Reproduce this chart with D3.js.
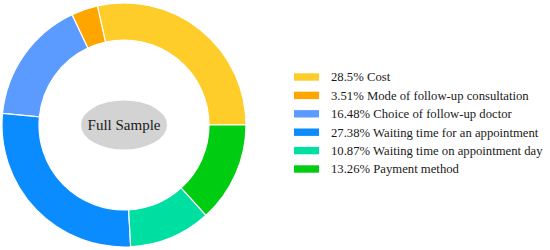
<!DOCTYPE html>
<html>
<head>
<meta charset="utf-8">
<script src="https://cdn.jsdelivr.net/npm/d3@7"></script>
<style>
  body { margin: 0; background: #fff; }
  svg { display: block; }
  svg text { font-family: "Liberation Serif", "DejaVu Serif", serif; }
</style>
</head>
<body>
<div id="chart"></div>
<script>
// slice data, in drawing order (counter-clockwise from 3 o'clock)
var labels = ["Cost", "Mode of follow-up consultation", "Choice of follow-up doctor",
              "Waiting time for an appointment", "Waiting time on appointment day", "Payment method"];
var values = [28.5, 3.51, 16.48, 27.38, 10.87, 13.26];
var colors = ["#ffcd29", "#ffa500", "#5b9bff", "#0a8cff", "#00dfa2", "#00cc11"];
var centerLabel = "Full Sample";

var width = 550, height = 250;
var cx = 124, cy = 125;
var outerR = 122, innerR = 85;

var svg = d3.select("#chart")
    .append("svg")
    .attr("width", width)
    .attr("height", height);

var data = labels.map(function (d, i) {
    return { label: d, value: values[i], color: colors[i] };
});

// start at east, go counter-clockwise
var pie = d3.pie()
    .sort(null)
    .value(function (d) { return d.value; })
    .startAngle(Math.PI / 2)
    .endAngle(Math.PI / 2 - 2 * Math.PI);

var arc = d3.arc()
    .innerRadius(innerR)
    .outerRadius(outerR);

var donut = svg.append("g")
    .attr("transform", "translate(" + cx + "," + cy + ")");

donut.selectAll("path")
    .data(pie(data))
    .join("path")
    .attr("d", arc)
    .attr("fill", function (d) { return d.data.color; })
    .attr("stroke", "#fff")
    .attr("stroke-width", 1.2);

// center label
donut.append("ellipse")
    .attr("rx", 43)
    .attr("ry", 24.5)
    .attr("fill", "#d3d3d3");

donut.append("text")
    .attr("text-anchor", "middle")
    .attr("dy", "0.35em")
    .attr("font-size", 15)
    .attr("fill", "#1a1a1a")
    .text(centerLabel);

// legend
var legendX = 294, legendY = 77, rowH = 18.4;

var legend = svg.append("g")
    .attr("transform", "translate(" + legendX + "," + legendY + ")");

var rows = legend.selectAll("g")
    .data(data)
    .join("g")
    .attr("transform", function (d, i) { return "translate(0," + (i * rowH) + ")"; });

rows.append("rect")
    .attr("x", 0)
    .attr("y", -3.7)
    .attr("width", 25)
    .attr("height", 7.4)
    .attr("fill", function (d) { return d.color; });

rows.append("text")
    .attr("x", 37)
    .attr("dy", "0.35em")
    .attr("font-size", 12.7)
    .attr("fill", "#1a1a1a")
    .text(function (d) { return d.value + "% " + d.label; });
</script>
</body>
</html>
